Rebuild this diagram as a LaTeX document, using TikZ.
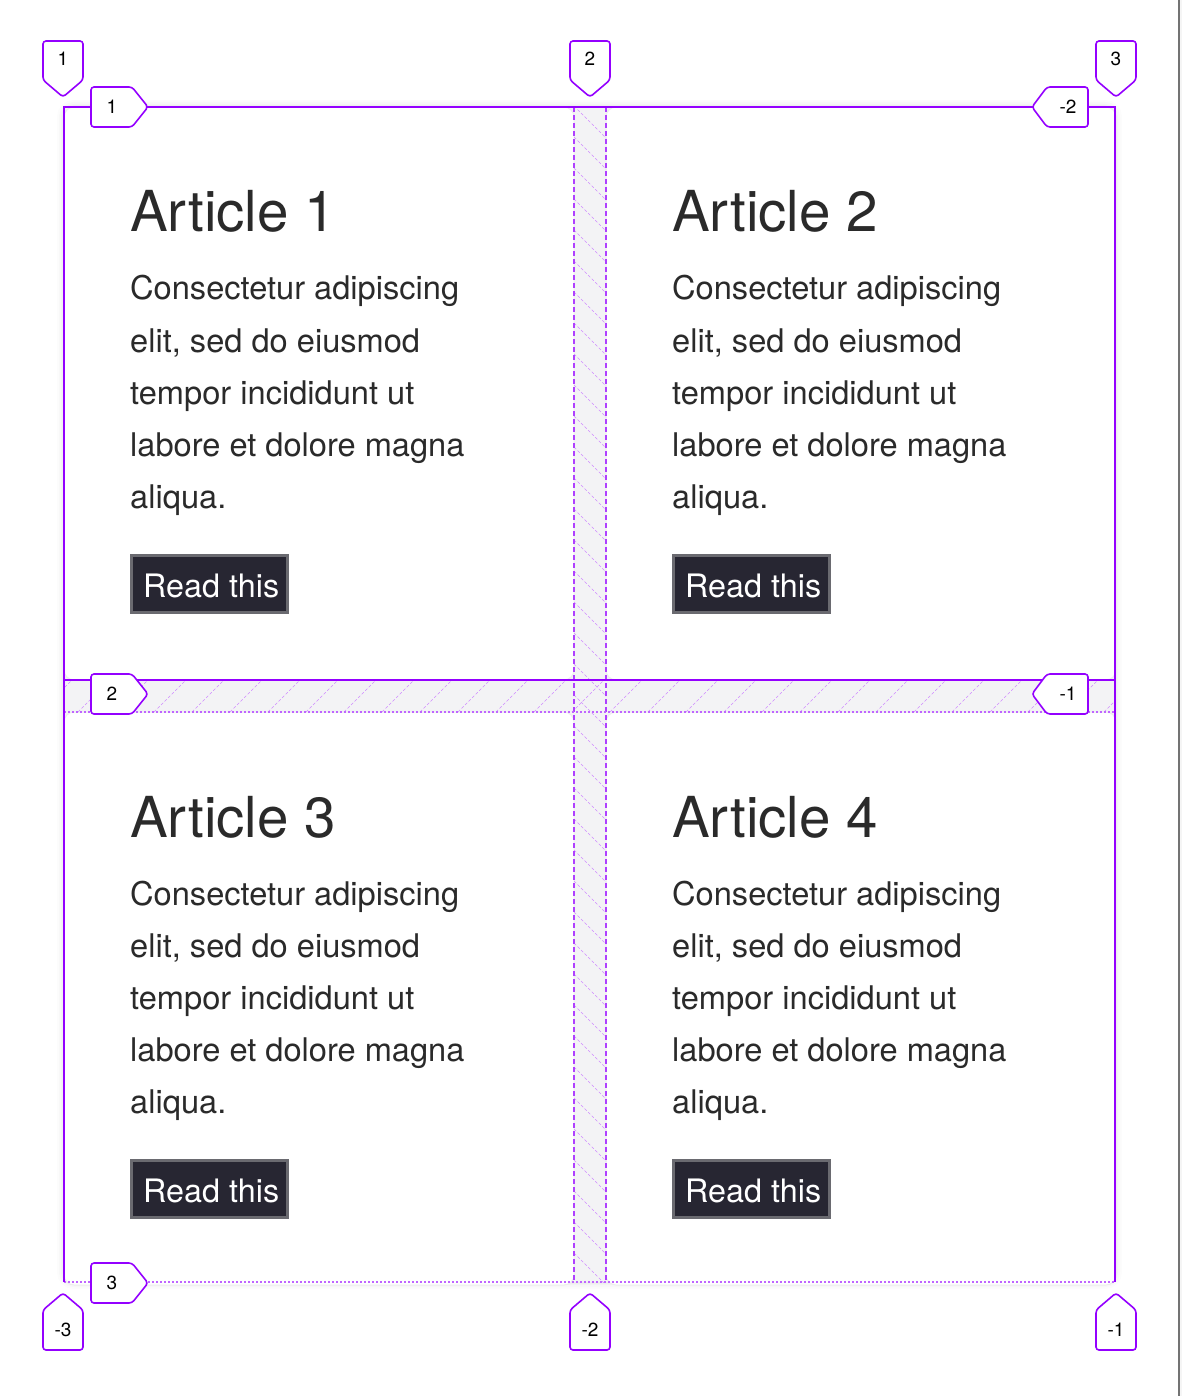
\documentclass[tikz,border=0pt]{standalone}
\usepackage{fontspec}
\setmainfont{TeX Gyre Heros}
\definecolor{gridc}{HTML}{9400FF}
\definecolor{txt}{HTML}{2A2A2A}
\definecolor{btnfill}{HTML}{272632}
\definecolor{btnedge}{HTML}{6A6A70}
\definecolor{gapbg}{HTML}{F3F3F5}
\begin{document}
\begin{tikzpicture}[x=1pt,y=-1pt,
  solidline/.style={gridc, line width=1.8pt},
  dashline/.style={gridc!75, line width=1.5pt, dash pattern=on 5pt off 3pt},
  dotline/.style={gridc!60, line width=1.5pt, dash pattern=on 2pt off 2pt},
  hatch/.style={gridc!45, line width=0.5pt, dash pattern=on 3pt off 2pt},
  badge/.style={draw=gridc, fill=white, line width=1.6pt, rounded corners=3pt},
  badgetext/.style={font=\fontsize{19}{22}\selectfont, text=black, inner sep=0pt},
  cardbox/.style={fill=white, draw=black!7, line width=1pt, rounded corners=10pt},
  title/.style={font=\fontsize{56.5}{60}\selectfont, text=txt, inner sep=0pt, anchor=base west},
  body/.style={font=\fontsize{32.6}{40}\selectfont, text=txt, inner sep=0pt, anchor=base west},
  btn/.style={fill=btnfill, draw=btnedge, line width=3pt},
  btntext/.style={font=\fontsize{32.3}{40}\selectfont, text=white, inner sep=0pt, anchor=base west}
]
\useasboundingbox (0,0) rectangle (1182,1396);
\fill[white] (0,0) rectangle (1182,1396);
% scrollbar edge
\fill[black!4] (1180,0) rectangle (1182,1396);
\draw[black!55, line width=1.5pt] (1179.2,0) -- (1179.2,1396);

% soft shadow around grid
\foreach \r/\o in {14/0.012,10/0.015,6/0.02,3/0.025}{
  \draw[black, opacity=\o, line width=\r pt, rounded corners=10pt] (64,107) rectangle (1115,1282);
}
% gap background
\fill[gapbg] (64,107) rectangle (1115,1282);

\newcommand\drawcard[3]{%
  \draw[cardbox] (64+#1,107+#2) rectangle (574+#1,680+#2);
  \node[title] (title#3) at (130+#1,232+#2) {Article #3};
  \foreach \ln [count=\i] in {{Consectetur adipiscing},{elit, sed do eiusmod},{tempor incididunt ut},{labore et dolore magna},{aliqua.}}{
    \node[body] (body#3-\i) at (130+#1,248+52*\i+#2) {\ln};
  }
  \draw[btn] (131.5+#1,555.5+#2) rectangle (287.5+#1,612.5+#2);
  \node[btntext] (btn#3) at (143+#1,597+#2) {Read this};
}
\drawcard{0}{0}{1}
\drawcard{542}{0}{2}
\drawcard{0}{605}{3}
\drawcard{542}{605}{4}

% hatching in column gap
\begin{scope}
  \clip (574,107) rectangle (606,1282);
  \foreach \k in {75,106,...,1290}{
    \draw[hatch] (574,\k) -- ++(34,34);
  }
\end{scope}
% hatching in row gap
\begin{scope}
  \clip (64,680) rectangle (1115,712);
  \foreach \k in {40,78,...,1120}{
    \draw[hatch] (\k,712) -- ++(34,-34);
  }
\end{scope}

% grid lines
\draw[dashline] (574,107) -- (574,1282);
\draw[dashline] (606,107) -- (606,1282);
\draw[dotline] (64,712) -- (1115,712);
\draw[dotline] (64,1282) -- (1115,1282);
\draw[solidline] (64,1282) -- (64,107) -- (1115,107) -- (1115,1282);
\draw[solidline] (64,680) -- (1115,680);

% column badges (top, pointing down)
\foreach \x/\t [count=\i] in {63/1,590/2,1116/3}{
  \draw[badge] (\x-20,41) -- (\x+20,41) -- (\x+20,80) -- (\x,97) -- (\x-20,80) -- cycle;
  \node[badgetext] (ctop\i) at (\x,59) {\t};
}
% column badges (bottom, pointing up)
\foreach \x/\t [count=\i] in {63/-3,590/-2,1116/-1}{
  \draw[badge] (\x-20,1350) -- (\x+20,1350) -- (\x+20,1310) -- (\x,1293) -- (\x-20,1310) -- cycle;
  \node[badgetext] (cbot\i) at (\x,1330) {\t};
}
% row badges (left, pointing right)
\foreach \y/\t [count=\i] in {107/1,694/2,1283/3}{
  \draw[badge] (91,\y-20) -- (132,\y-20) -- (148,\y) -- (132,\y+20) -- (91,\y+20) -- cycle;
  \node[badgetext] (rleft\i) at (112,\y) {\t};
}
% row badges (right, pointing left)
\foreach \y/\t [count=\i] in {107/-2,694/-1}{
  \draw[badge] (1088,\y-20) -- (1047,\y-20) -- (1032,\y) -- (1047,\y+20) -- (1088,\y+20) -- cycle;
  \node[badgetext] (rright\i) at (1068,\y) {\t};
}
\end{tikzpicture}
\end{document}
